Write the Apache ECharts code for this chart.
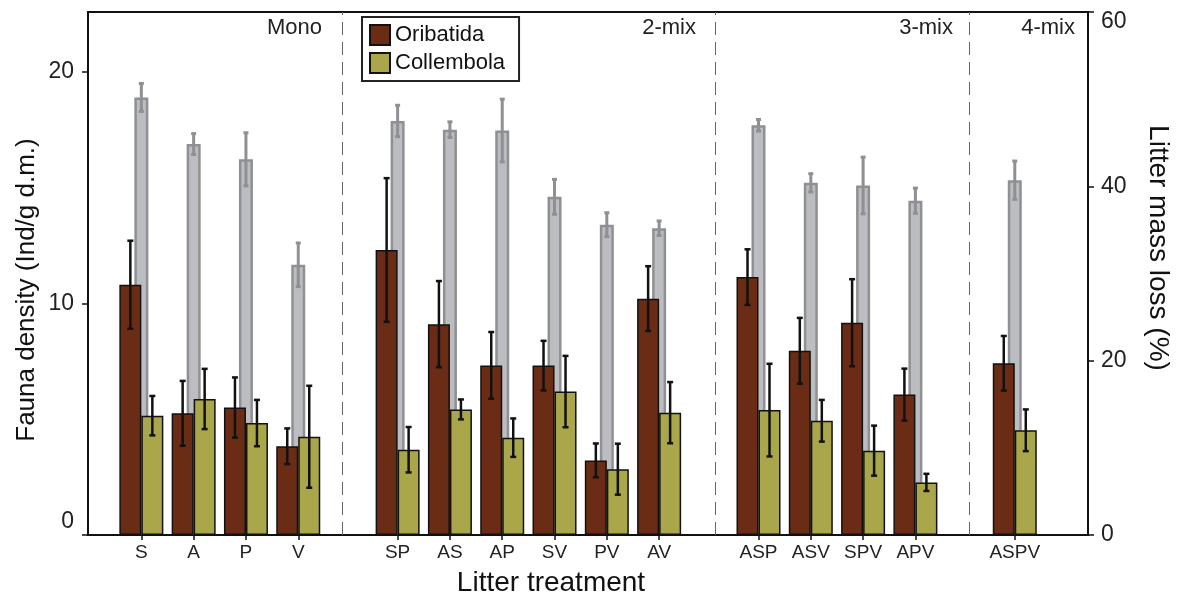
<!DOCTYPE html>
<html>
<head>
<meta charset="utf-8">
<script src="https://cdn.jsdelivr.net/npm/echarts@6/dist/echarts.min.js"></script>
<style>
  html, body { margin: 0; padding: 0; background: #fff; }
  #main { width: 1180px; height: 597px; }
</style>
</head>
<body>
<div id="main"></div>
<script>
// treatments and where they sit on the x axis (groups separated by a gap)
var treatments = ['S', 'A', 'P', 'V', 'SP', 'AS', 'AP', 'SV', 'PV', 'AV', 'ASP', 'ASV', 'SPV', 'APV', 'ASPV'];
var xPos = [1, 2, 3, 4, 5.9, 6.9, 7.9, 8.9, 9.9, 10.9, 12.8, 13.8, 14.8, 15.8, 17.7];
var groupBreaks = [4.842, 11.974, 16.83];
var groupNames = ['Mono', '2-mix', '3-mix', '4-mix'];

// fauna density (Ind/g d.m.) mean and SE
var oribatida = [10.8, 5.25, 5.5, 3.83, 12.3, 9.1, 7.32, 7.31, 3.22, 10.2, 11.13, 7.95, 9.16, 6.06, 7.41];
var oribatidaErr = [1.9, 1.4, 1.3, 0.77, 3.1, 1.86, 1.44, 1.07, 0.73, 1.4, 1.2, 1.42, 1.88, 1.12, 1.18];
var collembola = [5.15, 5.87, 4.83, 4.24, 3.68, 5.42, 4.2, 6.19, 2.84, 5.28, 5.39, 4.93, 3.64, 2.27, 4.52];
var collembolaErr = [0.85, 1.3, 1.0, 2.2, 0.98, 0.43, 0.83, 1.54, 1.1, 1.32, 2.0, 0.9, 1.08, 0.37, 0.9];

// litter mass loss (%) mean and SE
var massLoss = [50.2, 44.85, 43.1, 31.0, 47.5, 46.5, 46.4, 38.8, 35.6, 35.2, 47.0, 40.4, 40.1, 38.35, 40.7];
var massLossErr = [1.6, 1.2, 3.05, 2.5, 1.8, 0.9, 3.6, 2.0, 1.37, 0.83, 0.67, 1.05, 3.25, 1.45, 2.2];

var densityTicks = [0, 10, 20];

var chart = echarts.init(document.getElementById('main'));

function pairs(vals) {
  return vals.map(function (v, i) { return [xPos[i], v]; });
}
function errData(vals, errs) {
  return vals.map(function (v, i) { return [xPos[i], v - errs[i], v + errs[i]]; });
}
function errRender(offset, color, width, cap) {
  return function (params, api) {
    var x = api.value(0);
    var top = api.coord([x, api.value(2)]);
    var bot = api.coord([x, api.value(1)]);
    var cx = top[0] + offset;
    var st = { stroke: color, lineWidth: width };
    return {
      type: 'group',
      children: [
        { type: 'line', shape: { x1: cx, y1: top[1], x2: cx, y2: bot[1] }, style: st },
        { type: 'line', shape: { x1: cx - cap, y1: top[1], x2: cx + cap, y2: top[1] }, style: st },
        { type: 'line', shape: { x1: cx - cap, y1: bot[1], x2: cx + cap, y2: bot[1] }, style: st }
      ]
    };
  };
}
function nameOf(v) {
  for (var i = 0; i < xPos.length; i++) {
    if (Math.abs(xPos[i] - v) < 0.001) return treatments[i];
  }
  return '';
}

var FONT = 'Liberation Sans, Arial, sans-serif';
var groupRight = [322, 696, 953, 1075];

var option = {
  animation: false,
  backgroundColor: '#fff',
  textStyle: { fontFamily: FONT },
  grid: {
    left: 88, right: 92, top: 12, bottom: 62,
    show: true, borderColor: '#111', borderWidth: 2
  },
  legend: {
    data: ['Oribatida', 'Collembola'],
    orient: 'vertical',
    left: 362, top: 17,
    icon: 'rect',
    itemWidth: 20, itemHeight: 20, itemGap: 6,
    padding: [7, 14, 7, 7],
    borderColor: '#222', borderWidth: 2,
    backgroundColor: '#fff',
    textStyle: { fontSize: 22, color: '#111', fontFamily: FONT, lineHeight: 20 }
  },
  xAxis: [{
    type: 'value', min: -0.02, max: 19.1,
    axisLine: { onZero: false, lineStyle: { color: '#111', width: 2 } },
    axisTick: { customValues: xPos, length: 5, lineStyle: { color: '#111', width: 1.5 } },
    axisLabel: {
      customValues: xPos, formatter: nameOf,
      fontSize: 19, color: '#222', margin: 8
    },
    splitLine: { show: false }
  }, {
    type: 'value', min: -0.02, max: 19.1, show: false,
    axisLine: { onZero: false },
    splitLine: { show: false }
  }],
  yAxis: [{
    type: 'value', min: 0, max: 22.57,
    axisLine: { show: true, onZero: false, lineStyle: { color: '#111', width: 2 } },
    axisTick: { show: true, customValues: densityTicks, length: 6, lineStyle: { color: '#111', width: 1.5 } },
    axisLabel: {
      customValues: densityTicks,
      formatter: function (v) { return v === 0 ? '{lo|0}' : String(v); },
      fontSize: 23, color: '#222', margin: 14,
      rich: { lo: { fontSize: 23, color: '#222', padding: [0, 0, 26, 0] } }
    },
    splitLine: { show: false }
  }, {
    type: 'value', min: 0, max: 60, interval: 20, position: 'right',
    axisLine: { show: true, onZero: false, lineStyle: { color: '#111', width: 2 } },
    axisTick: { show: true, length: 6, lineStyle: { color: '#111', width: 1.5 } },
    axisLabel: {
      formatter: function (v) { return v === 60 ? '{hi|60}' : String(v); },
      fontSize: 23, color: '#222', margin: 13,
      rich: { hi: { fontSize: 23, color: '#222', padding: [20, 0, 0, 0] } }
    },
    splitLine: { show: false }
  }],
  graphic: [
    {
      type: 'text', x: 27, y: 290, rotation: Math.PI / 2,
      style: { text: 'Fauna density (Ind/g d.m.)', font: '26px ' + FONT, fill: '#111', align: 'center', verticalAlign: 'middle' }
    },
    {
      type: 'text', x: 1158, y: 248, rotation: -Math.PI / 2,
      style: { text: 'Litter mass loss (%)', font: '28px ' + FONT, fill: '#111', align: 'center', verticalAlign: 'middle' }
    },
    {
      type: 'text', x: 551, y: 583,
      style: { text: 'Litter treatment', font: '28px ' + FONT, fill: '#111', align: 'center', verticalAlign: 'middle' }
    }
  ].concat(groupNames.map(function (g, i) {
    return {
      type: 'text', x: groupRight[i], y: 28,
      style: { text: g, font: '22px ' + FONT, fill: '#222', align: 'right', verticalAlign: 'middle' }
    };
  })),
  series: [
    {
      name: 'Litter mass loss', type: 'bar', xAxisIndex: 1, yAxisIndex: 1, z: 1,
      barWidth: 14,
      itemStyle: { color: '#BCBDC1', borderColor: '#8F9093', borderWidth: 2.5 },
      data: pairs(massLoss),
      // group separators
      markLine: {
        silent: true, symbol: 'none', label: { show: false },
        lineStyle: { type: [13, 7], color: '#666', width: 1 },
        data: groupBreaks.map(function (b) { return { xAxis: b }; })
      }
    },
    {
      type: 'custom', xAxisIndex: 1, yAxisIndex: 1, z: 2, silent: true,
      renderItem: errRender(0, '#8F9093', 3, 2.5),
      encode: { x: 0, y: [1, 2] },
      data: errData(massLoss, massLossErr)
    },
    {
      name: 'Oribatida', type: 'bar', xAxisIndex: 0, yAxisIndex: 0, z: 3,
      barWidth: 22, barGap: '0%',
      itemStyle: { color: '#6B2C16', borderColor: '#111', borderWidth: 1.5 },
      data: pairs(oribatida)
    },
    {
      name: 'Collembola', type: 'bar', xAxisIndex: 0, yAxisIndex: 0, z: 3,
      barWidth: 22, barGap: '0%',
      itemStyle: { color: '#A9A74A', borderColor: '#111', borderWidth: 1.5 },
      data: pairs(collembola)
    },
    {
      type: 'custom', xAxisIndex: 0, yAxisIndex: 0, z: 4, silent: true,
      renderItem: errRender(-11, '#111', 2.5, 3),
      encode: { x: 0, y: [1, 2] },
      data: errData(oribatida, oribatidaErr)
    },
    {
      type: 'custom', xAxisIndex: 0, yAxisIndex: 0, z: 4, silent: true,
      renderItem: errRender(11, '#111', 2.5, 3),
      encode: { x: 0, y: [1, 2] },
      data: errData(collembola, collembolaErr)
    }
  ]
};

chart.setOption(option);
</script>
</body>
</html>
